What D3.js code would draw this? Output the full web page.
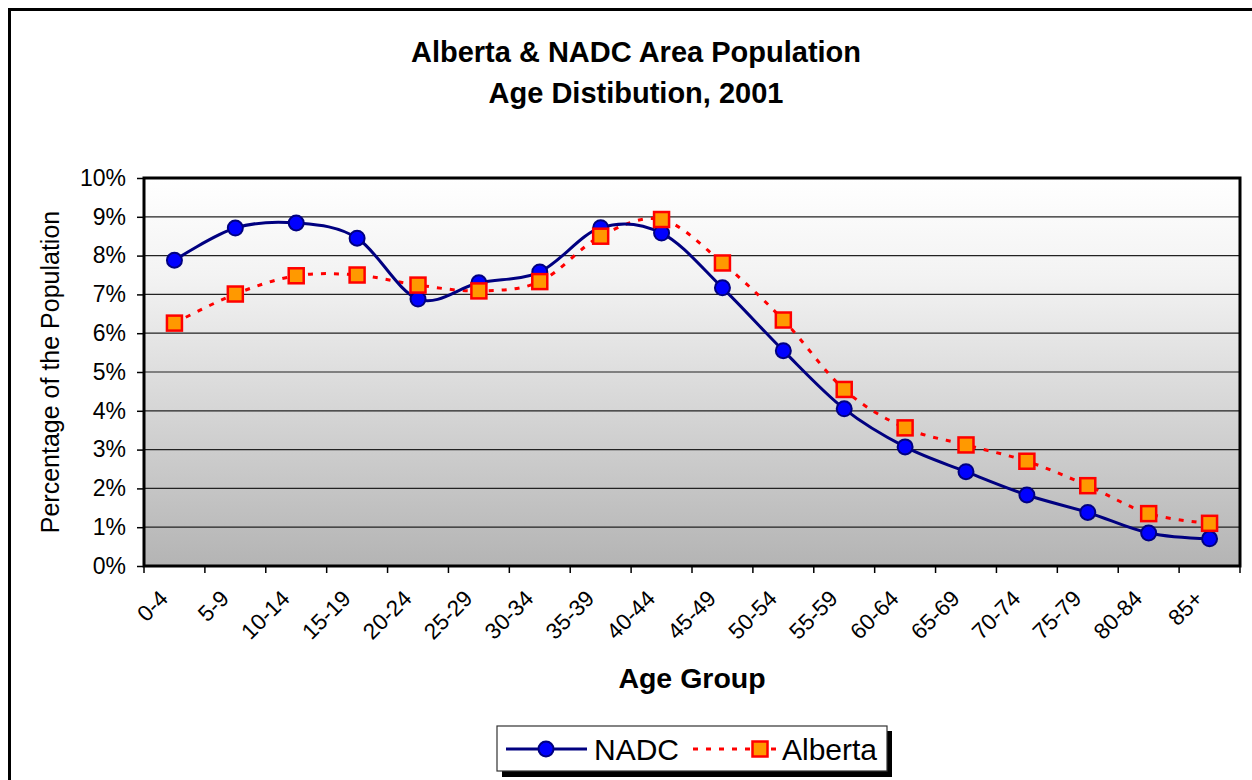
<!DOCTYPE html>
<html><head><meta charset="utf-8">
<script src="https://cdn.jsdelivr.net/npm/d3@7"></script>
<style>body{margin:0;background:#fff}svg{display:block;font-family:"Liberation Sans",Arial,sans-serif}</style>
</head><body>
<svg id="c" width="1252" height="780"></svg>
<script>
const categories = ["0-4","5-9","10-14","15-19","20-24","25-29","30-34","35-39","40-44","45-49","50-54","55-59","60-64","65-69","70-74","75-79","80-84","85+"];
const nadc = [7.88,8.71,8.84,8.45,6.88,7.30,7.58,8.72,8.58,7.17,5.55,4.05,3.07,2.43,1.83,1.38,0.85,0.70];
const alberta = [6.26,7.01,7.48,7.50,7.24,7.09,7.33,8.50,8.93,7.81,6.34,4.55,3.56,3.12,2.70,2.07,1.35,1.10];
const yTicks = [0,1,2,3,4,5,6,7,8,9,10];
const titleLines = ["Alberta & NADC Area Population","Age Distibution, 2001"];

const svg = d3.select("#c");
const L=144, R=1240, T=178, B=566;

// outer frame
svg.append("rect").attr("x",9.5).attr("y",9.5).attr("width",1260).attr("height",800)
  .attr("fill","#fff").attr("stroke","#000").attr("stroke-width",3);

const defs = svg.append("defs");
const g = defs.append("linearGradient").attr("id","bg").attr("x1",0).attr("y1",0).attr("x2",0).attr("y2",1);
g.append("stop").attr("offset","0%").attr("stop-color","#ffffff");
g.append("stop").attr("offset","25%").attr("stop-color","#f3f3f3");
g.append("stop").attr("offset","100%").attr("stop-color","#b4b4b4");

const x = d3.scaleBand().domain(categories).range([L,R]);
const y = d3.scaleLinear().domain([0,10]).range([B,T]);

svg.append("rect").attr("x",L).attr("y",T).attr("width",R-L).attr("height",B-T).attr("fill","url(#bg)");

// gridlines
svg.append("g").selectAll("line").data(yTicks.slice(1,-1)).join("line")
  .attr("x1",L).attr("x2",R).attr("y1",d=>y(d)).attr("y2",d=>y(d))
  .attr("stroke","#222").attr("stroke-width",1.2);

// y axis
const ya = svg.append("g").attr("transform",`translate(${L},0)`)
  .call(d3.axisLeft(y).tickValues(yTicks).tickFormat(d=>d+"%").tickSize(7).tickPadding(11));
ya.select(".domain").remove();
ya.selectAll("line").attr("stroke","#000").attr("stroke-width",1.5);
ya.selectAll("text").attr("font-size",23).attr("font-family","Liberation Sans, Arial").attr("fill","#000");

// x axis ticks at category boundaries
const bounds = categories.map(c=>x(c)).concat([R]);
svg.append("g").selectAll("line").data(bounds).join("line")
  .attr("x1",d=>d).attr("x2",d=>d).attr("y1",B).attr("y2",B+7)
  .attr("stroke","#000").attr("stroke-width",1.5);
svg.append("g").selectAll("text").data(categories).join("text")
  .attr("transform",d=>`translate(${x(d)+x.bandwidth()/2-5},${B+34}) rotate(-45)`)
  .attr("text-anchor","end").attr("font-size",22.5).attr("fill","#000").text(d=>d);

// plot border
svg.append("rect").attr("x",L).attr("y",T).attr("width",R-L).attr("height",B-T)
  .attr("fill","none").attr("stroke","#000").attr("stroke-width",3);

const cx = d=>x(d)+x.bandwidth()/2;
const line = d3.line().curve(d3.curveCatmullRom.alpha(0)).x(d=>cx(d[0])).y(d=>y(d[1]));

svg.append("path").datum(categories.map((c,i)=>[c,alberta[i]])).attr("d",line)
  .attr("fill","none").attr("stroke","#ff0000").attr("stroke-width",3).attr("stroke-dasharray","5,8");
svg.append("path").datum(categories.map((c,i)=>[c,nadc[i]])).attr("d",line)
  .attr("fill","none").attr("stroke","#000080").attr("stroke-width",3);

svg.append("g").selectAll("circle").data(categories.map((c,i)=>[c,nadc[i]])).join("circle")
  .attr("cx",d=>cx(d[0])).attr("cy",d=>y(d[1])).attr("r",7.5)
  .attr("fill","#0000ff").attr("stroke","#000080").attr("stroke-width",2);
svg.append("g").selectAll("rect").data(categories.map((c,i)=>[c,alberta[i]])).join("rect")
  .attr("x",d=>cx(d[0])-7.5).attr("y",d=>y(d[1])-7.5).attr("width",15).attr("height",15)
  .attr("fill","#ff9900").attr("stroke","#ff0000").attr("stroke-width",2.5);

// titles
svg.append("g").selectAll("text").data(titleLines).join("text")
  .attr("x",636).attr("y",(d,i)=>62+i*41).attr("text-anchor","middle")
  .attr("font-size",29).attr("font-weight","bold").attr("fill","#000").text(d=>d);
svg.append("text").attr("transform","translate(59,372) rotate(-90)").attr("text-anchor","middle")
  .attr("font-size",25).attr("fill","#000").text("Percentage of the Population");
svg.append("text").attr("x",692).attr("y",688).attr("text-anchor","middle")
  .attr("font-size",28.5).attr("font-weight","bold").attr("fill","#000").text("Age Group");

// legend
const lg = svg.append("g");
lg.append("rect").attr("x",502).attr("y",731).attr("width",390).attr("height",46).attr("fill","#000");
lg.append("rect").attr("x",497).attr("y",726).attr("width",390).attr("height",45).attr("fill","#fff").attr("stroke","#333").attr("stroke-width",1.2);
const ly = 749;
lg.append("line").attr("x1",506).attr("x2",587).attr("y1",ly).attr("y2",ly).attr("stroke","#000080").attr("stroke-width",3);
lg.append("circle").attr("cx",546).attr("cy",ly).attr("r",7.5).attr("fill","#0000ff").attr("stroke","#000080").attr("stroke-width",2);
lg.append("text").attr("x",594).attr("y",ly+11).attr("font-size",30).attr("fill","#000").text("NADC");
lg.append("line").attr("x1",693).attr("x2",776).attr("y1",ly).attr("y2",ly).attr("stroke","#ff0000").attr("stroke-width",3).attr("stroke-dasharray","5,8");
lg.append("rect").attr("x",752.5).attr("y",ly-7.5).attr("width",15).attr("height",15).attr("fill","#ff9900").attr("stroke","#ff0000").attr("stroke-width",2.5);
lg.append("text").attr("x",782).attr("y",ly+11).attr("font-size",30).attr("fill","#000").text("Alberta");
</script>
</body></html>
